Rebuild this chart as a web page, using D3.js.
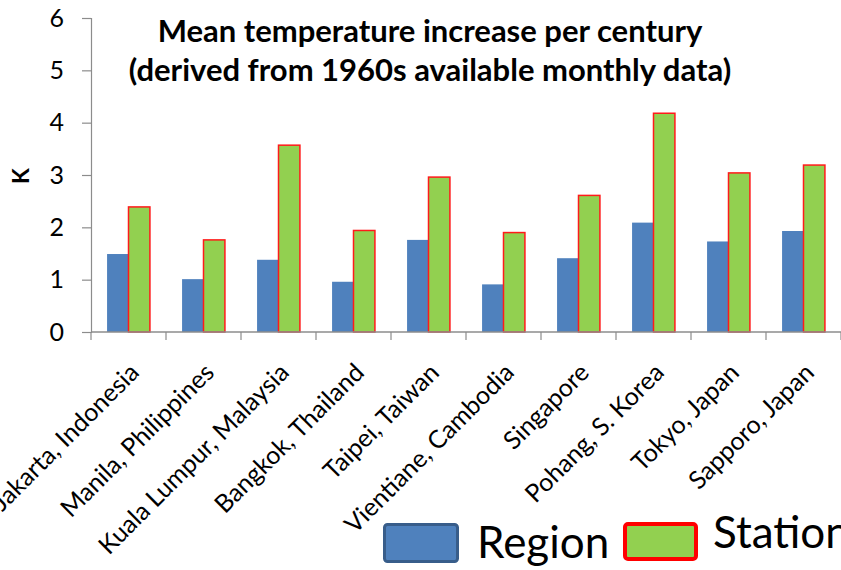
<!DOCTYPE html>
<html>
<head>
<meta charset="utf-8">
<script src="https://cdn.jsdelivr.net/npm/d3@7/dist/d3.min.js"></script>
<style>
  html, body { margin: 0; padding: 0; background: #fff; overflow: hidden; }
  svg { display: block; font-family: Lato, "Open Sans", sans-serif; }
</style>
</head>
<body>
<svg id="chart" width="841" height="570"></svg>
<script>
// Mean temperature increase per century (K), regional vs station series
const cities = [
  "Jakarta, Indonesia", "Manila, Philippines", "Kuala Lumpur, Malaysia",
  "Bangkok, Thailand", "Taipei, Taiwan", "Vientiane, Cambodia",
  "Singapore", "Pohang, S. Korea", "Tokyo, Japan", "Sapporo, Japan"
];
const regionValues  = [1.49, 1.01, 1.38, 0.96, 1.76, 0.91, 1.41, 2.09, 1.73, 1.93];
const stationValues = [2.39, 1.76, 3.57, 1.94, 2.96, 1.90, 2.61, 4.18, 3.04, 3.19];
const seriesNames = ["Region", "Station"];
const yTicks = [0, 1, 2, 3, 4, 5, 6];
const titleLines = ["Mean temperature increase per century",
                    "(derived from 1960s available monthly data)"];
const yLabel = "K";

const svg = d3.select("#chart");
const plot = { left: 91, right: 841, top: 18, bottom: 332 };

const x = d3.scaleBand().domain(cities).range([plot.left, plot.right]).padding(0);
const xInner = d3.scaleBand().domain(seriesNames)
  .range([0, x.bandwidth()]).paddingInner(0).paddingOuter(0.75);
const y = d3.scaleLinear().domain([0, 6]).range([plot.bottom, plot.top]);

const fill = { Region: "#4f81bd", Station: "#92d050" };
const edge = { Station: "#ff1a1a" };

// bars
const rows = cities.map((c, i) => ({ city: c, Region: regionValues[i], Station: stationValues[i] }));
const groups = svg.append("g").selectAll("g").data(rows).join("g")
  .attr("transform", d => `translate(${x(d.city)},0)`);
groups.selectAll("rect")
  .data(d => seriesNames.map(s => ({ s, v: d[s] })))
  .join("rect")
  .attr("x", d => xInner(d.s))
  .attr("y", d => y(d.v))
  .attr("width", xInner.bandwidth())
  .attr("height", d => y(0) - y(d.v))
  .attr("fill", d => fill[d.s])
  .attr("stroke", d => d.s === "Station" ? edge.Station : "none")
  .attr("stroke-width", 1.5);

// y axis
const yAxis = d3.axisLeft(y).tickValues(yTicks).tickSize(9).tickPadding(18)
  .tickFormat(d3.format("d"));
const gy = svg.append("g").attr("transform", `translate(${plot.left},0)`).call(yAxis);
gy.select(".domain").attr("stroke", "#8c8c8c").attr("stroke-width", 1.2);
gy.selectAll(".tick line").attr("stroke", "#8c8c8c").attr("stroke-width", 1.2);
gy.selectAll(".tick text").attr("font-size", 25).attr("fill", "#000")
  .attr("font-family", "Lato, sans-serif");

// x axis: ticks at category boundaries
const gx = svg.append("g").attr("transform", `translate(0,${plot.bottom})`);
gx.append("line").attr("x1", plot.left).attr("x2", plot.right)
  .attr("stroke", "#8c8c8c").attr("stroke-width", 1.5);
const boundaries = cities.map(c => x(c)).concat([x(cities[cities.length - 1]) + x.bandwidth()]);
gx.selectAll("line.tk").data(boundaries).join("line").attr("class", "tk")
  .attr("x1", d => d).attr("x2", d => d).attr("y1", 0).attr("y2", 8)
  .attr("stroke", "#8c8c8c").attr("stroke-width", 1.2);
gx.selectAll("text").data(cities).join("text")
  .attr("transform", d => `translate(${x(d) + x.bandwidth() / 2 + 5},${35}) rotate(-45)`)
  .attr("text-anchor", "end")
  .attr("dominant-baseline", "central")
  .attr("font-size", 25)
  .attr("fill", "#000")
  .text(d => d);

// y label
svg.append("text")
  .attr("transform", "translate(20,176) rotate(-90)")
  .attr("text-anchor", "middle").attr("dominant-baseline", "central")
  .attr("font-size", 23).attr("font-weight", "bold")
  .text(yLabel);

// title
svg.append("g").selectAll("text").data(titleLines).join("text")
  .attr("x", 430).attr("y", (d, i) => 42 + i * 39)
  .attr("text-anchor", "middle")
  .attr("font-size", 31).attr("font-weight", "bold")
  .text(d => d);

// legend
const legend = [
  { name: "Region", x: 383, y: 523, w: 76, h: 40, fill: fill.Region, stroke: "#385d8a", sw: 3, tx: 477, ty: 558 },
  { name: "Station", x: 623, y: 522, w: 75, h: 39, fill: fill.Station, stroke: "#ff0000", sw: 4, tx: 713, ty: 548 }
];
const lg = svg.append("g").selectAll("g").data(legend).join("g");
lg.append("rect")
  .attr("x", d => d.x + d.sw / 2).attr("y", d => d.y + d.sw / 2)
  .attr("width", d => d.w - d.sw).attr("height", d => d.h - d.sw)
  .attr("rx", 3)
  .attr("fill", d => d.fill).attr("stroke", d => d.stroke).attr("stroke-width", d => d.sw);
lg.append("text")
  .attr("x", d => d.tx).attr("y", d => d.ty)
  .attr("font-size", 44).attr("fill", "#000")
  .text(d => d.name);
</script>
</body>
</html>
